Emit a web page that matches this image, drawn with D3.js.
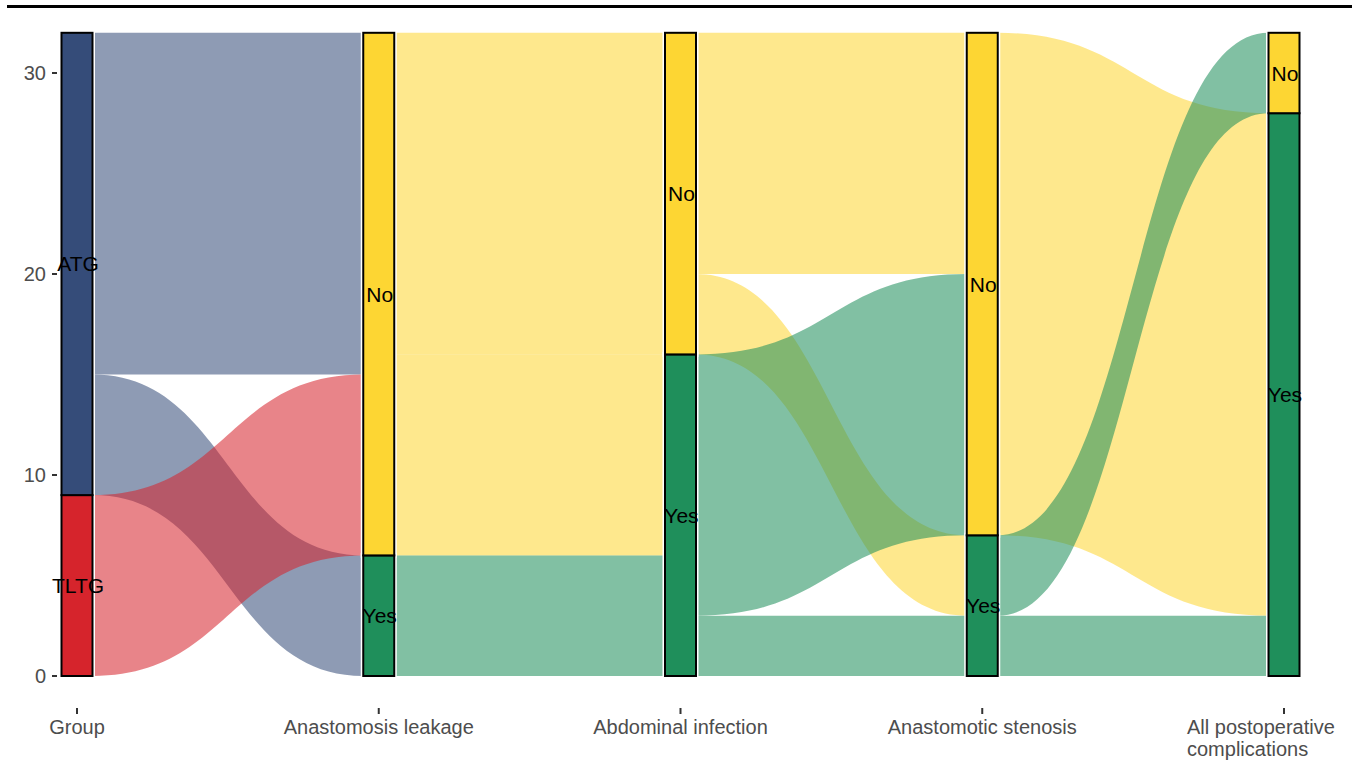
<!DOCTYPE html>
<html>
<head>
<meta charset="utf-8">
<script src="https://cdn.jsdelivr.net/npm/d3@7"></script>
<style>
  html, body { margin: 0; padding: 0; background: #fff; }
  svg { display: block; font-family: "Liberation Sans", Arial, Helvetica, sans-serif; }
</style>
</head>
<body>
<svg id="chart" width="1356" height="761"></svg>
<script>
// ---------------- DATA ----------------
const axisLabels = ["Group", "Anastomosis leakage", "Abdominal infection", "Anastomotic stenosis", "All postoperative complications"];
// strata per axis, listed bottom to top
const strataNames = [["TLTG", "ATG"], ["Yes", "No"], ["Yes", "No"], ["Yes", "No"], ["Yes", "No"]];
const strataCounts = [[9, 23], [6, 26], [16, 16], [7, 25], [28, 4]];
// flows between consecutive axes: [from stratum, to stratum, count]
const flowsGroupLeak = [["ATG", "Yes", 6], ["ATG", "No", 17], ["TLTG", "Yes", 0], ["TLTG", "No", 9]];
const flowsLeakInf = [["Yes", "Yes", 6], ["Yes", "No", 0], ["No", "Yes", 10], ["No", "No", 16]];
const flowsInfSten = [["Yes", "Yes", 3], ["Yes", "No", 13], ["No", "Yes", 4], ["No", "No", 12]];
const flowsStenAll = [["Yes", "Yes", 3], ["Yes", "No", 4], ["No", "Yes", 25], ["No", "No", 0]];
const yTicks = [0, 10, 20, 30];

const fillColors = { ATG: "#354c79", TLTG: "#d6242c", Yes: "#1f8f5b", No: "#fdd633" };
const flowOpacity = 0.56;

// ---------------- LAYOUT ----------------
const svg = d3.select("#chart");
const x = d3.scalePoint().domain(axisLabels).range([77, 1284]);
const y = d3.scaleLinear().domain([0, 30]).range([676, 73]);
const halfW = 15.5;

// top rule
svg.append("line").attr("x1", 7).attr("x2", 1352).attr("y1", 6.5).attr("y2", 6.5)
  .attr("stroke", "#000").attr("stroke-width", 3);

// strata positions
const strata = [];
axisLabels.forEach((ax, i) => {
  let base = 0;
  strataNames[i].forEach((nm, j) => {
    const n = strataCounts[i][j];
    strata.push({ axis: i, name: nm, order: j, y0: base, y1: base + n });
    base += n;
  });
});
const findStratum = (i, nm) => strata.find(s => s.axis === i && s.name === nm);

// flow positions
const flowSets = [flowsGroupLeak, flowsLeakInf, flowsInfSten, flowsStenAll];
const flowShapes = [];
flowSets.forEach((fl, i) => {
  const items = fl.filter(f => f[2] > 0).map(f => ({
    from: f[0], to: f[1], n: f[2],
    so: strataNames[i].indexOf(f[0]), to_: strataNames[i + 1].indexOf(f[1])
  }));
  strataNames[i].forEach(nm => {
    let b = findStratum(i, nm).y0;
    items.filter(d => d.from === nm).sort((a, c) => a.to_ - c.to_).forEach(d => {
      d.a0 = b; d.a1 = b + d.n; b += d.n;
    });
  });
  strataNames[i + 1].forEach(nm => {
    let b = findStratum(i + 1, nm).y0;
    items.filter(d => d.to === nm).sort((a, c) => a.so - c.so).forEach(d => {
      d.b0 = b; d.b1 = b + d.n; b += d.n;
    });
  });
  items.sort((a, c) => c.so - a.so).forEach(d => flowShapes.push({ ...d, i }));
});

function flowPath(d) {
  const x0 = x(axisLabels[d.i]) + halfW;
  const x1 = x(axisLabels[d.i + 1]) - halfW;
  const xm = (x0 + x1) / 2;
  const at = y(d.a1), ab = y(d.a0), bt = y(d.b1), bb = y(d.b0);
  return `M${x0},${at} C${xm},${at} ${xm},${bt} ${x1},${bt} L${x1},${bb} C${xm},${bb} ${xm},${ab} ${x0},${ab} Z`;
}

svg.append("g").selectAll("path").data(flowShapes).join("path")
  .attr("d", flowPath)
  .attr("fill", d => fillColors[d.from])
  .attr("fill-opacity", flowOpacity)
  .attr("stroke", "none");

// strata: white halo then fill with black border
const sg = svg.append("g");
sg.selectAll("rect.halo").data(strata).join("rect").attr("class", "halo")
  .attr("x", d => x(axisLabels[d.axis]) - halfW)
  .attr("width", halfW * 2)
  .attr("y", d => y(d.y1))
  .attr("height", d => y(d.y0) - y(d.y1))
  .attr("fill", "#fff").attr("stroke", "#fff").attr("stroke-width", 5);
sg.selectAll("rect.box").data(strata).join("rect").attr("class", "box")
  .attr("x", d => x(axisLabels[d.axis]) - halfW)
  .attr("width", halfW * 2)
  .attr("y", d => y(d.y1))
  .attr("height", d => y(d.y0) - y(d.y1))
  .attr("fill", d => fillColors[d.name]).attr("stroke", "#000").attr("stroke-width", 2);
sg.selectAll("text").data(strata).join("text")
  .attr("x", d => x(axisLabels[d.axis]) + 1)
  .attr("y", d => y((d.y0 + d.y1) / 2))
  .attr("text-anchor", "middle")
  .attr("dominant-baseline", "central")
  .attr("font-size", 21)
  .attr("fill", "#000")
  .text(d => d.name);

// y axis
const ya = svg.append("g");
ya.selectAll("line").data(yTicks).join("line")
  .attr("x1", 52).attr("x2", 57)
  .attr("y1", d => y(d)).attr("y2", d => y(d))
  .attr("stroke", "#333").attr("stroke-width", 2);
ya.selectAll("text").data(yTicks).join("text")
  .attr("x", 46).attr("y", d => y(d))
  .attr("text-anchor", "end").attr("dominant-baseline", "central")
  .attr("font-size", 20).attr("fill", "#4d4d4d")
  .text(d => d);

// x axis
const xa = svg.append("g");
xa.selectAll("line").data(axisLabels).join("line")
  .attr("x1", d => x(d)).attr("x2", d => x(d))
  .attr("y1", 708).attr("y2", 714)
  .attr("stroke", "#333").attr("stroke-width", 2);
const xl = xa.selectAll("text").data(axisLabels).join("text")
  .attr("font-size", 20).attr("fill", "#4d4d4d");
xl.each(function (d, i) {
  const t = d3.select(this);
  if (i === axisLabels.length - 1) {
    const words = d.split(" ");
    const lines = [words.slice(0, 2).join(" "), words.slice(2).join(" ")];
    t.attr("text-anchor", "start");
    lines.forEach((ln, k) => {
      t.append("tspan").attr("x", x(d) - 97).attr("y", 734 + k * 22).text(ln);
    });
  } else {
    t.attr("x", x(d)).attr("y", 734).attr("text-anchor", "middle").text(d);
  }
});
</script>
</body>
</html>
